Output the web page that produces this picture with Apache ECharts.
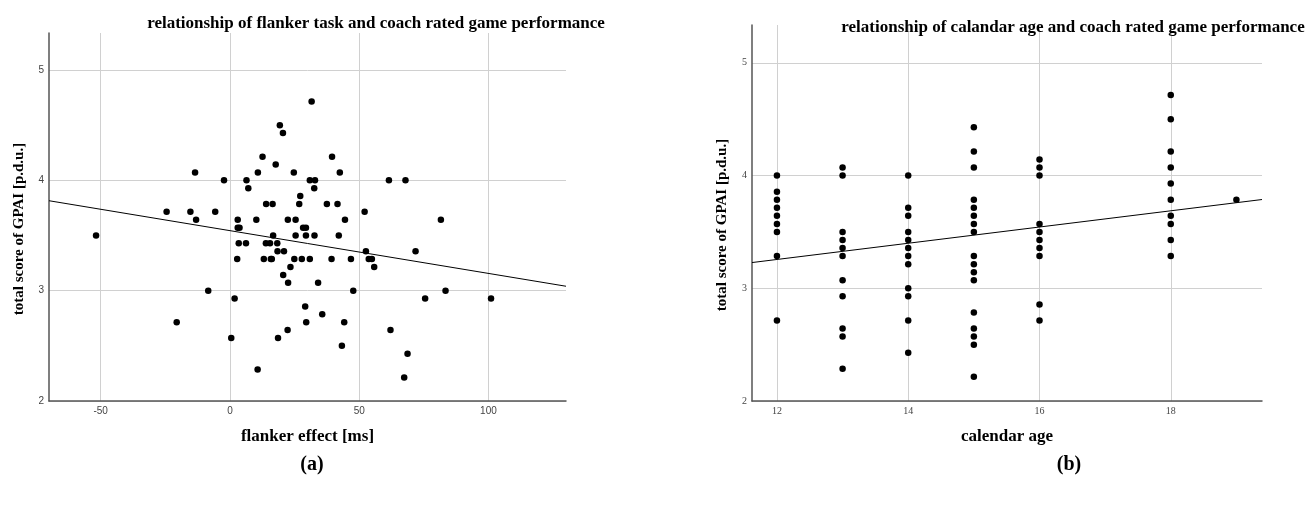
<!DOCTYPE html>
<html>
<head>
<meta charset="utf-8">
<script src="https://cdn.jsdelivr.net/npm/echarts@6/dist/echarts.min.js"></script>
<style>
html,body{margin:0;padding:0;background:#fff;}
#chart{width:1306px;height:505px;}
</style>
</head>
<body>
<div id="chart"></div>
<script>
// ---- Panel (a): flanker effect vs GPAI ----
const flankerEffect = [-51.8,-24.5,-20.6,-15.3,-13.5,-13.1,-8.4,-5.7,-2.3,0.5,
  1.8,2.8,3.0,3.0,3.7,3.4,6.2,6.4,7.1,10.2,
  10.7,10.8,12.6,13.1,13.9,14.0,15.5,15.8,16.2,16.5,
  16.7,17.7,18.3,18.4,18.6,19.3,20.5,20.6,20.9,22.4,
  22.3,22.5,23.4,24.7,24.9,25.4,25.4,26.8,27.2,27.8,
  28.3,29.4,29.4,29.1,29.5,30.9,30.9,31.6,32.6,32.9,
  32.7,34.1,35.7,37.5,39.3,39.5,41.6,42.1,42.5,43.3,
  44.2,44.5,46.8,47.7,52.1,52.6,53.7,54.9,55.8,61.5,
  62.1,67.4,67.9,68.7,71.8,75.5,81.6,83.4,101.0];
const gpaiA = [3.5,3.714,2.714,3.714,4.071,3.643,3.0,3.714,4.0,2.571,
  2.929,3.286,3.643,3.571,3.571,3.429,3.429,4.0,3.929,3.643,
  2.286,4.071,4.214,3.286,3.429,3.786,3.429,3.286,3.286,3.786,
  3.5,4.143,3.429,3.357,2.571,4.5,4.429,3.143,3.357,3.643,
  2.643,3.071,3.214,4.071,3.286,3.643,3.5,3.786,3.857,3.286,
  3.571,3.571,3.5,2.857,2.714,4.0,3.286,4.714,3.929,4.0,
  3.5,3.071,2.786,3.786,3.286,4.214,3.786,3.5,4.071,2.5,
  2.714,3.643,3.286,3.0,3.714,3.357,3.286,3.286,3.214,4.0,
  2.643,2.214,4.0,2.429,3.357,2.929,3.643,3.0,2.929];
const fitA = [[-70, 3.815], [130, 3.04]];
const xTicksA = [-50, 0, 50, 100];
const yTicks = [2, 3, 4, 5];

// ---- Panel (b): calendar age vs GPAI ----
const calendarAge = [12,12,12,12,12,12,12,12,12,
  13,13,13,13,13,13,13,13,13,13,13,
  14,14,14,14,14,14,14,14,14,14,14,14,
  15,15,15,15,15,15,15,15,15,15,15,15,15,15,15,15,15,
  16,16,16,16,16,16,16,16,16,16,
  18,18,18,18,18,18,18,18,18,18,
  19];
const gpaiB = [4.0,3.857,3.786,3.714,3.643,3.571,3.5,3.286,2.714,
  4.071,4.0,3.5,3.429,3.357,3.286,3.071,2.929,2.643,2.571,2.286,
  4.0,3.714,3.643,3.5,3.429,3.357,3.286,3.214,3.0,2.929,2.714,2.429,
  4.429,4.214,4.071,3.786,3.714,3.643,3.571,3.5,3.286,3.214,3.143,3.071,2.786,2.643,2.571,2.5,2.214,
  4.143,4.071,4.0,3.571,3.5,3.429,3.357,3.286,2.857,2.714,
  4.714,4.5,4.214,4.071,3.929,3.786,3.643,3.571,3.429,3.286,
  3.786];
const fitB = [[11.62, 3.228], [19.39, 3.787]];
const xTicksB = [12, 14, 16, 18];

const titleA = 'relationship of flanker task and coach rated game performance';
const titleB = 'relationship of calandar age and coach rated game performance';
const xNameA = 'flanker effect [ms]';
const xNameB = 'calendar age';
const yName = 'total score of GPAI [p.d.u.]';

const SERIF = '"Liberation Serif","Times New Roman",serif';
const SANS = '"Liberation Sans",Arial,sans-serif';
const gridColor = '#d0d0d0';
const axisColor = '#555555';

function xAxis(gridIndex, min, max, ticks, name, labelFont) {
  return {
    type: 'value', gridIndex, min, max,
    name, nameLocation: 'middle', nameGap: 27,
    nameTextStyle: {fontFamily: SERIF, fontWeight: 'bold', fontSize: 17, color: '#000'},
    axisLine: {show: true, onZero: false, lineStyle: {color: axisColor, width: 1.5}},
    axisTick: {show: false, customValues: ticks},
    axisLabel: {customValues: ticks, fontFamily: labelFont, fontSize: 10, color: '#444', margin: 5},
    splitLine: {show: true, lineStyle: {color: gridColor, width: 1}}
  };
}
function yAxis(gridIndex, labelFont, gap) {
  return {
    type: 'value', gridIndex, min: 2, max: 5.335,
    name: yName, nameLocation: 'middle', nameGap: gap, nameRotate: 90,
    nameTextStyle: {fontFamily: SERIF, fontWeight: 'bold', fontSize: 15, color: '#000', padding: [0, 24, 0, 0]},
    axisLine: {show: true, onZero: false, lineStyle: {color: axisColor, width: 1.5}},
    axisTick: {show: false, customValues: yTicks},
    axisLabel: {customValues: yTicks, fontFamily: labelFont, fontSize: 10, color: '#444', margin: 5},
    splitLine: {show: true, lineStyle: {color: gridColor, width: 1}}
  };
}

const chart = echarts.init(document.getElementById('chart'), null, {renderer: 'canvas'});
chart.setOption({
  animation: false,
  backgroundColor: '#fff',
  title: [
    {text: titleA, left: 376, top: 15, textAlign: 'center', padding: 0,
     textStyle: {fontFamily: SERIF, fontWeight: 'bold', fontSize: 17, color: '#000'}},
    {text: titleB, left: 1073, top: 19, textAlign: 'center', padding: 0,
     textStyle: {fontFamily: SERIF, fontWeight: 'bold', fontSize: 17, color: '#000'}},
    {text: '{p|(}{b|a}{p|)}', left: 312, top: 455, textAlign: 'center', padding: 0,
     textStyle: {rich: {p: {fontFamily: SERIF, fontSize: 20, color: '#000'}, b: {fontFamily: SERIF, fontSize: 20, fontWeight: 'bold', color: '#000'}}}},
    {text: '{p|(}{b|b}{p|)}', left: 1069, top: 455, textAlign: 'center', padding: 0,
     textStyle: {rich: {p: {fontFamily: SERIF, fontSize: 20, color: '#000'}, b: {fontFamily: SERIF, fontSize: 20, fontWeight: 'bold', color: '#000'}}}}
  ],
  grid: [
    {left: 49, top: 33, width: 517, height: 368},
    {left: 752, top: 25, width: 510, height: 376}
  ],
  xAxis: [
    xAxis(0, -70, 130, xTicksA, xNameA, SANS),
    xAxis(1, 11.62, 19.39, xTicksB, xNameB, SERIF)
  ],
  yAxis: [
    yAxis(0, SANS, 22),
    yAxis(1, SERIF, 22)
  ],
  series: [
    {type: 'scatter', xAxisIndex: 0, yAxisIndex: 0, symbolSize: 6.5,
     itemStyle: {color: '#000', opacity: 1}, data: flankerEffect.map((x, i) => [x, gpaiA[i]])},
    {type: 'line', xAxisIndex: 0, yAxisIndex: 0, data: fitA, symbol: 'none',
     lineStyle: {color: '#000', width: 1}},
    {type: 'scatter', xAxisIndex: 1, yAxisIndex: 1, symbolSize: 6.5,
     itemStyle: {color: '#000', opacity: 1}, data: calendarAge.map((x, i) => [x, gpaiB[i]])},
    {type: 'line', xAxisIndex: 1, yAxisIndex: 1, data: fitB, symbol: 'none',
     lineStyle: {color: '#000', width: 1}}
  ]
});
</script>
</body>
</html>
